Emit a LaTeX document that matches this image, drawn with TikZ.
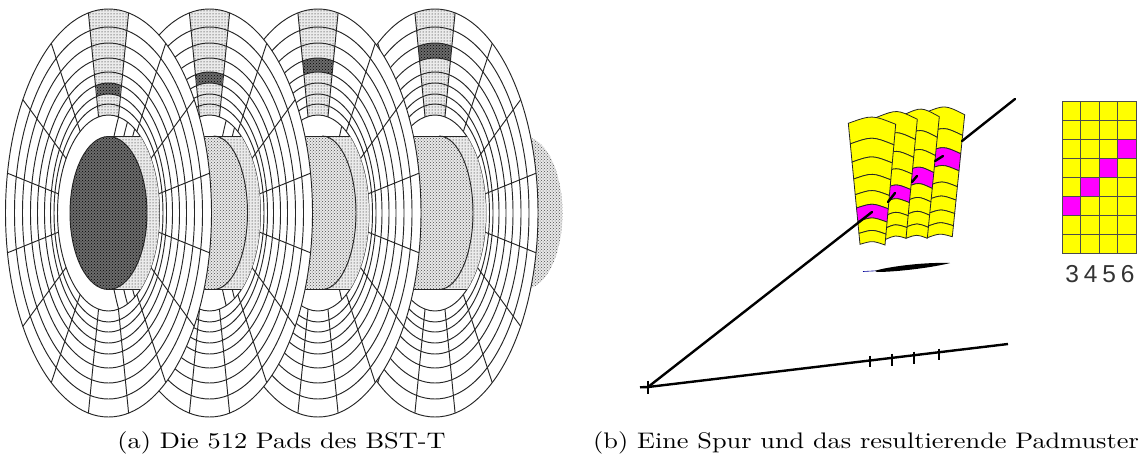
\documentclass[tikz,border=0pt]{standalone}
\usepackage{fontspec}
\newfontfamily\labfont[LetterSpace=20]{Liberation Sans}
\newfontfamily\capfont[Extension=.otf]{lmroman10-regular}
\usetikzlibrary{patterns}
\definecolor{padyellow}{RGB}{255,255,0}
\definecolor{padmagenta}{RGB}{255,0,255}
\def\RXL{{103,94,86,78,71,64,58,54.5,51}}
\def\RYL{{204,186,170,155,141,130,119,109,98}}
\def\TL{{0,.17,.32,.46,.59,.70,.81,.91,1}}
\tikzset{
  wire/.style={draw=black!85,line width=.95pt},
  fine/.style={pattern=dots,pattern color=black,preaction={fill=black!8}},
  coarse/.style={pattern=crosshatch dots,pattern color=black!70,preaction={fill=black!9}},
  darkpad/.style={pattern=crosshatch dots,pattern color=black,preaction={fill=black!58}},
  track/.style={draw=black,line width=2.4pt},
  tick/.style={draw=black,line width=1.7pt},
  padline/.style={draw=black!85,line width=.8pt},
  capstyle/.style={font=\capfont\fontsize{22.5}{26}\selectfont,anchor=base}
}
% disc: centre x, index of dark pad, 1 if the hole shows the front end of the cylinder
\newcommand{\disc}[3]{%
  \fill[white,even odd rule] (#1,213) ellipse [x radius=103pt,y radius=204pt]
                             (#1,213) ellipse [x radius=51pt,y radius=98pt];
  \foreach \j in {0,...,7}{
    \pgfmathtruncatemacro\k{\j+1}
    \pgfmathsetmacro\rxa{\RXL[\j]}\pgfmathsetmacro\rya{\RYL[\j]}
    \pgfmathsetmacro\rxb{\RXL[\k]}\pgfmathsetmacro\ryb{\RYL[\k]}
    \ifnum\j=#2\relax\def\thisstyle{darkpad}\else\def\thisstyle{fine}\fi
    \path[\thisstyle] ({#1+\rxa*cos(78.75)},{213-\rya*sin(78.75)})
      arc[start angle=78.75,end angle=101.25,x radius=\rxa pt,y radius=\rya pt]
      -- ({#1+\rxb*cos(101.25)},{213-\ryb*sin(101.25)})
      arc[start angle=101.25,end angle=78.75,x radius=\rxb pt,y radius=\ryb pt] -- cycle;
  }
  \foreach \j in {0,...,8}{
    \pgfmathsetmacro\rxa{\RXL[\j]}\pgfmathsetmacro\rya{\RYL[\j]}
    \draw[wire] (#1,213) ellipse [x radius=\rxa pt,y radius=\rya pt];
  }
  \foreach \a in {11.25,33.75,...,348.75}{
    \draw[wire] ({#1+51*cos(\a)},{213-98*sin(\a)}) -- ({#1+103*cos(\a)},{213-204*sin(\a)});
  }
  \begin{scope}
    \clip (#1,213) ellipse [x radius=51pt,y radius=98pt];
    \ifnum#3=1\relax
      \fill[fine] ({#1},136) rectangle ({#1+60},289.5);
      \fill[darkpad] ({#1},213) ellipse [x radius=38.5pt,y radius=76.5pt];
      \draw[wire] ({#1},213) ellipse [x radius=38.5pt,y radius=76.5pt];
      \draw[wire] ({#1},136) -- ({#1+60},136) ({#1},289.5) -- ({#1+60},289.5);
    \else
      \fill[fine] ({#1-60},136) rectangle ({#1+60},289.5);
      \fill[coarse] ({#1-60},136) -- ({#1+4},136)
         arc[start angle=90,end angle=-90,x radius=34pt,y radius=76.75pt]
         -- ({#1-60},289.5) -- cycle;
      \draw[wire] ({#1+4},136) arc[start angle=90,end angle=-90,x radius=34pt,y radius=76.75pt];
      \draw[wire] ({#1-60},136) -- ({#1+60},136) ({#1-60},289.5) -- ({#1+60},289.5);
    \fi
  \end{scope}
}
% fan: TLx,TLy,TRx,TRy,BLx,BLy,BRx,BRy,magenta index
\newcommand{\fan}[9]{%
  \foreach \j in {0,...,7}{
    \pgfmathtruncatemacro\k{\j+1}
    \pgfmathsetmacro\ta{\TL[\j]}\pgfmathsetmacro\tb{\TL[\k]}
    \pgfmathsetmacro\lax{#1+(#5-#1)*\ta}\pgfmathsetmacro\lay{#2+(#6-#2)*\ta}
    \pgfmathsetmacro\rax{#3+(#7-#3)*\ta}\pgfmathsetmacro\ray{#4+(#8-#4)*\ta}
    \pgfmathsetmacro\lbx{#1+(#5-#1)*\tb}\pgfmathsetmacro\lby{#2+(#6-#2)*\tb}
    \pgfmathsetmacro\rbx{#3+(#7-#3)*\tb}\pgfmathsetmacro\rby{#4+(#8-#4)*\tb}
    \pgfmathsetmacro\cax{(\lax+\rax)/2}\pgfmathsetmacro\cay{(\lay+\ray)/2-2*(4.5-2.5*\ta)}
    \pgfmathsetmacro\cbx{(\lbx+\rbx)/2}\pgfmathsetmacro\cby{(\lby+\rby)/2-2*(4.5-2.5*\tb)}
    \ifnum\j=#9\relax\def\thiscol{padmagenta}\else\def\thiscol{padyellow}\fi
    \filldraw[padline,fill=\thiscol] (\lax,\lay) .. controls (\cax,\cay) .. (\rax,\ray)
      -- (\rbx,\rby) .. controls (\cbx,\cby) .. (\lbx,\lby) -- cycle;
  }
}
\begin{document}
\begin{tikzpicture}[x=1pt,y=-1pt]
\useasboundingbox (0,0) rectangle (1143,458);
% back end of the cylinder
\fill[coarse] (525,213) ellipse [x radius=37.5pt,y radius=76pt];
\disc{435}{2}{0}
\disc{318}{3}{0}
\disc{209.5}{4}{0}
\disc{108.5}{5}{1}
\node[capstyle] (capa) at (281.5,448.5) {\scalebox{1.17}[1]{(a) Die 512 Pads des BST-T}};
\coordinate (origin) at (648,387);
\coordinate (tail) at (640,387.3);
\coordinate (rend) at (1008,344);
\coordinate (trackend) at (1015,99);
\draw[track] (tail) -- (origin) -- (rend);
\draw[tick] (648,380.5) -- (648,394);
\draw[tick] (870,355.5) -- (870,367);
\draw[tick] (891.7,353.5) -- (891.7,365.5);
\draw[tick] (914,351.5) -- (914,364);
\draw[tick] (939,348.5) -- (939,360);
% pad fans
\fan{925}{112.7}{964.7}{114.7}{927.3}{237.7}{952.3}{236.7}{2}
\fan{903.3}{115}{939.3}{116.7}{906}{238.3}{927.3}{238.3}{3}
\fan{876.7}{117.3}{917.3}{119.3}{885}{239.7}{906}{238.3}{4}
\fan{848.3}{123.3}{895.7}{124.3}{860}{244.3}{885}{245}{5}
% track through the fans
\coordinate (p1) at (872,212);
\coordinate (p2) at (888,202);
\coordinate (p3) at (895,193);
\coordinate (p4) at (912,182);
\coordinate (p5) at (917,176);
\coordinate (p6) at (935,161);
\coordinate (p7) at (943,156);
\coordinate (p8) at (962,141);
\draw[track,line cap=round] (origin) -- (p1) (p2) -- (p3) (p4) -- (p5) (p6) -- (p7) (p8) -- (trackend);
% projected track
\draw[blue!60!black,line width=.6pt] (863,271.5) -- (876,270.8);
\fill[black] (875,270.8) .. controls (885,267.5) and (920,262) .. (950,263)
   .. controls (935,267) and (900,271.8) .. (877,272) -- cycle;
% pad pattern
\foreach \c in {0,1,2,3}{
  \foreach \r in {0,...,7}{
    \pgfmathsetmacro\xa{1062.3+18.4*\c}\pgfmathsetmacro\ya{101+19.03*\r}
    \pgfmathsetmacro\xb{1062.3+18.4*(\c+1)}\pgfmathsetmacro\yb{101+19.03*(\r+1)}
    \pgfmathtruncatemacro\hit{(\c+\r==5)?1:0}
    \ifnum\hit=1\relax\def\thiscol{padmagenta}\else\def\thiscol{padyellow}\fi
    \filldraw[padline,draw=black!70,fill=\thiscol] (\xa,\ya) rectangle (\xb,\yb);
  }
}
\node[font=\labfont\fontsize{24.5}{28}\selectfont,text=black!80,anchor=base] (nums) at (1100,282.5) {3456};
\node[capstyle] (capb) at (866,448.5) {\scalebox{1.17}[1]{(b) Eine Spur und das resultierende Padmuster}};
\end{tikzpicture}
\end{document}
